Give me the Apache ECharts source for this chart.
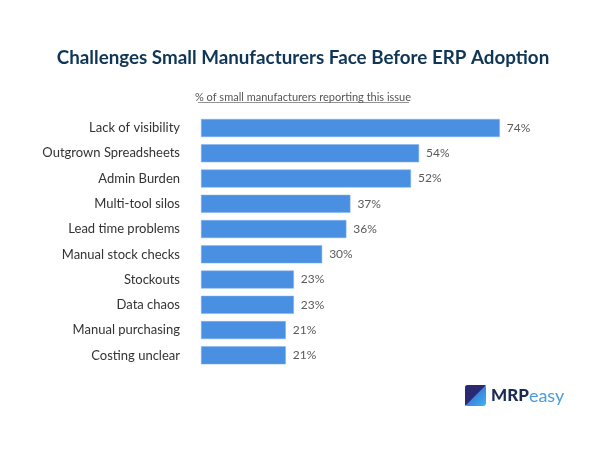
<!DOCTYPE html>
<html>
<head>
<meta charset="utf-8">
<script src="https://cdn.jsdelivr.net/npm/echarts@6/dist/echarts.min.js"></script>
<style>
html,body{margin:0;padding:0;background:#fff;}
#chart{width:606px;height:455px;}
</style>
</head>
<body>
<div id="chart"></div>
<script>
var categories = ["Lack of visibility","Outgrown Spreadsheets","Admin Burden","Multi-tool silos","Lead time problems","Manual stock checks","Stockouts","Data chaos","Manual purchasing","Costing unclear"];
var values = [74,54,52,37,36,30,23,23,21,21];
var titleText = "Challenges Small Manufacturers Face Before ERP Adoption";
var subtitleText = "% of small manufacturers reporting this issue";

var chart = echarts.init(document.getElementById('chart'), null, {renderer:'canvas'});
var option = {
  backgroundColor:'#ffffff',
  animation:false,
  title:[{
    text:titleText,
    left:'center',
    top:43,
    textStyle:{fontFamily:'Lato',fontWeight:'bold',fontSize:18.8,color:'#0f3557'}
  },{
    text:subtitleText,
    left:'center',
    top:87,
    textStyle:{fontFamily:'Lato',fontWeight:'normal',fontSize:11,color:'#555555'}
  }],
  grid:{left:201,right:86,top:115.4,bottom:87,containLabel:false},
  xAxis:{type:'value',min:0,max:79,show:false},
  yAxis:{
    type:'category',data:categories,inverse:true,
    axisLine:{show:false},axisTick:{show:false},splitLine:{show:false},
    axisLabel:{margin:21,fontFamily:'Lato',fontSize:13,color:'#333333'}
  },
  series:[{
    type:'bar',data:values,barWidth:18,
    itemStyle:{color:'#4a90e2',borderColor:'#7fb1ee',borderWidth:0.5},
    label:{show:true,position:'right',distance:7,formatter:'{c}%',fontFamily:'Lato',fontSize:12,color:'#5a5a5a'}
  }],
  graphic:[
    {type:'line',shape:{x1:198,y1:102.5,x2:409,y2:102.5},style:{stroke:'#777777',lineWidth:0.8}},
    {type:'rect',shape:{x:465,y:385,width:21,height:21,r:3},
      style:{fill:new echarts.graphic.LinearGradient(0,0,1,1,[{offset:0,color:'#3556c8'},{offset:1,color:'#3fb3f0'}])}},
    {type:'polygon',shape:{points:[[468,385],[486,385],[465,406],[465,388]]},style:{fill:'#2a2a72'}},
    {type:'rect',shape:{x:465,y:385,width:4,height:4,r:[3,0,0,0]},style:{fill:'#2a2a72'}},
    {type:'text',left:491,top:387,style:{
      text:'{a|MRP}{b|easy}',
      rich:{
        a:{fontFamily:'Lato',fontWeight:900,fontSize:17,fill:'#1b2b50',color:'#1b2b50'},
        b:{fontFamily:'Lato',fontWeight:'normal',fontSize:18,fill:'#4a9be0',color:'#4a9be0'}
      }
    }}
  ]
};
chart.setOption(option);
</script>
</body>
</html>
